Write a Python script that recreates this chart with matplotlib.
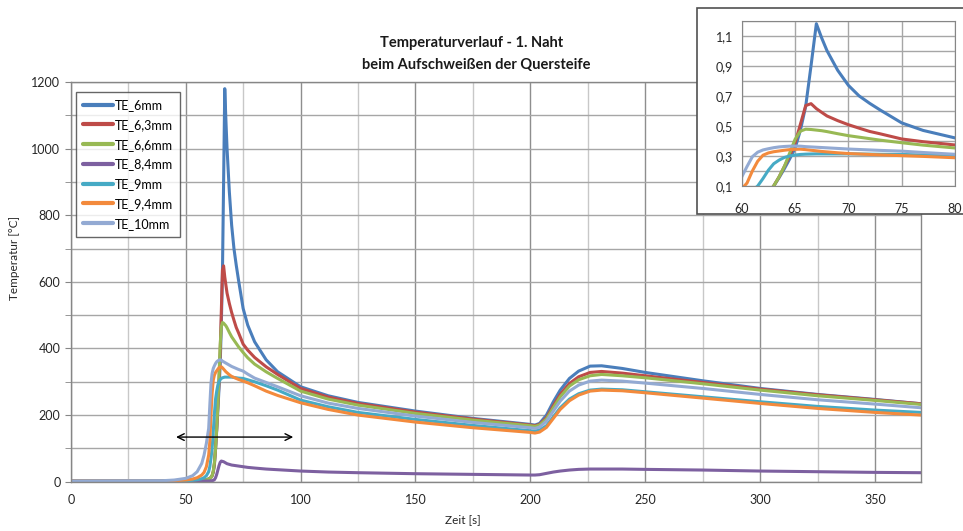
import matplotlib
matplotlib.use("Agg")
import matplotlib.pyplot as plt
from matplotlib.ticker import MultipleLocator, FuncFormatter
from matplotlib.patches import Rectangle

plt.rcParams['font.family'] = ['Lato', 'DejaVu Sans']

# ---- data (time in s, temperature in °C) ----
t = [0, 40, 45, 50, 53, 55, 57, 58, 59, 60, 60.5, 61, 61.5, 62, 62.5, 63, 63.5, 64, 64.5, 65,
     65.5, 66, 66.5, 67, 67.5, 68, 69, 70, 71, 72, 73, 75,
     77, 80, 85, 90, 100, 112, 125, 150, 175, 200,
     202, 204, 207, 210, 213, 217, 221, 226, 231, 240, 250, 275, 300, 325, 350, 370]

te_6mm = [2, 2, 2, 2, 3, 3, 4, 5, 6, 8, 10, 13, 18, 28, 50, 100, 155, 215, 280, 350,
          470, 630, 900, 1180, 1085, 1000, 870, 770, 700, 650, 605, 520,
          470, 420, 366, 330, 285, 258, 238, 212, 190, 172,
          170, 175, 200, 240, 275, 310, 332, 347, 348, 340, 328, 303, 280, 262, 247, 234]
te_6_3mm = [2, 2, 2, 2, 3, 3, 4, 5, 6, 8, 10, 13, 18, 30, 55, 100, 160, 230, 300, 385,
            510, 635, 648, 615, 590, 566, 535, 508, 485, 463, 447, 413,
            395, 373, 345, 322, 280, 254, 235, 209, 188, 170,
            168, 172, 192, 228, 262, 295, 315, 328, 331, 326, 318, 298, 278, 261, 246, 234]
te_6_6mm = [2, 2, 2, 2, 3, 3, 4, 5, 6, 8, 10, 13, 18, 32, 58, 100, 160, 230, 320, 410,
            465, 478, 476, 472, 468, 462, 448, 435, 425, 415, 405, 388,
            372, 353, 330, 310, 272, 248, 230, 205, 185, 168,
            166, 170, 188, 222, 255, 287, 306, 318, 322, 318, 312, 294, 275, 258, 244, 232]
te_8_4mm = [2, 2, 2, 2, 2, 2, 2, 2, 2, 2, 2, 3, 3, 4, 6, 12, 22, 35, 48, 58,
            62, 61, 60, 58, 56, 54, 52, 50, 49, 48, 47, 45,
            43, 41, 38, 36, 32, 29, 27, 24, 22, 20,
            20, 21, 25, 29, 32, 35, 37, 38, 38, 38, 37, 35, 32, 30, 28, 27]
te_9mm = [2, 2, 2, 3, 4, 6, 9, 12, 18, 30, 45, 70, 100, 150, 205, 248, 272, 290, 300, 306,
          310, 312, 313, 314, 314, 314, 314, 314, 313, 312, 311, 310,
          306, 300, 288, 275, 245, 225, 208, 187, 169, 153,
          152, 155, 168, 195, 222, 248, 264, 275, 278, 276, 270, 255, 240, 226, 215, 208]
te_9_4mm = [2, 2, 3, 5, 8, 12, 20, 28, 45, 80, 120, 200, 265, 305, 320, 328, 333, 338, 342, 344,
            345, 342, 338, 334, 330, 327, 321, 316, 313, 310, 307, 302,
            297, 288, 272, 259, 237, 217, 200, 179, 162, 148,
            146, 149, 163, 190, 217, 243, 260, 272, 275, 273, 267, 251, 235, 220, 208, 200]
te_10mm = [2, 3, 5, 10, 18, 30, 55, 80, 115, 160, 230, 295, 325, 340, 348, 355, 360, 363, 365, 366,
           365, 362, 360, 358, 356, 354, 350, 346, 343, 340, 337, 332,
           323, 311, 298, 285, 258, 236, 220, 197, 178, 162,
           160, 164, 182, 212, 242, 272, 290, 302, 305, 302, 296, 280, 262, 246, 233, 222]

labels = ['TE_6mm', 'TE_6,3mm', 'TE_6,6mm', 'TE_8,4mm', 'TE_9mm', 'TE_9,4mm', 'TE_10mm']
series = [te_6mm, te_6_3mm, te_6_6mm, te_8_4mm, te_9mm, te_9_4mm, te_10mm]
colors = ['#4A7EBB', '#BE4B48', '#98B954', '#7D60A0', '#46AAC5', '#F38A3C', '#93AAD3']

main_xticks = [0, 50, 100, 150, 200, 250, 300, 350]
main_yticks = [0, 200, 400, 600, 800, 1000, 1200]
inset_xticks = [60, 65, 70, 75, 80]
inset_yticks = [0.1, 0.3, 0.5, 0.7, 0.9, 1.1]

W, H = 963, 531
fig = plt.figure(figsize=(W / 100, H / 100), dpi=100)

def px_rect(x0, y0, x1, y1):
    return [x0 / W, 1 - y1 / H, (x1 - x0) / W, (y1 - y0) / H]

grid_c = '#A6A6A6'
spine_c = '#868686'

# ---- main axes ----
ax = fig.add_axes(px_rect(70.8, 82.0, 921.0, 481.7))
for s, lab, c in zip(series, labels, colors):
    ax.plot(t, s, color=c, lw=2.2, label=lab, solid_capstyle='round')

ax.set_xlim(0, 370)
ax.set_ylim(0, 1200)
ax.set_xticks(main_xticks)
ax.set_yticks(main_yticks)
ax.xaxis.set_minor_locator(MultipleLocator(25))
ax.yaxis.set_minor_locator(MultipleLocator(100))
ax.grid(which='major', axis='x', color='#8E8E8E', lw=1.0)
ax.grid(which='minor', axis='x', color='#C8C8C8', lw=1.0)
ax.grid(which='both', axis='y', color=grid_c, lw=1.0)
ax.set_axisbelow(True)
for sp in ax.spines.values():
    sp.set_color(spine_c)
    sp.set_linewidth(1.0)
ax.tick_params(which='both', direction='out', length=4, color=spine_c, labelsize=9,
               labelcolor='#262626')
ax.tick_params(axis='x', which='both', length=0, pad=9)

ax.annotate('', xy=(96.8, 134), xytext=(45.8, 134),
            arrowprops=dict(arrowstyle='<->', color='black', lw=1.0, mutation_scale=12,
                            shrinkA=0, shrinkB=0))

leg = ax.legend(loc='upper left', bbox_to_anchor=(0.006, 0.976), borderaxespad=0,
                fontsize=9, frameon=True, fancybox=False, handlelength=2.4,
                handletextpad=0.1, labelspacing=0.62, borderpad=0.6)
leg.get_frame().set_edgecolor('#404040')
leg.get_frame().set_linewidth(1.0)
for ln in leg.get_lines():
    ln.set_linewidth(3.0)

fig.text(472 / W, 1 - 43 / H, 'Temperaturverlauf - 1. Naht', ha='center', va='center',
         fontsize=10.5, fontweight='bold', color='#1a1a1a')
fig.text(476 / W, 1 - 65 / H, 'beim Aufschweißen der Quersteife', ha='center', va='center',
         fontsize=10.5, fontweight='bold', color='#1a1a1a')
fig.text(15 / W, 1 - 258 / H, 'Temperatur [°C]', rotation=90, ha='center', va='center',
         fontsize=8.5, color='#262626')
fig.text(463 / W, 1 - 520 / H, 'Zeit [s]', ha='center', va='center',
         fontsize=8.5, color='#262626')

# ---- inset ----
frame = Rectangle((697 / W, 1 - 214 / H), (975 - 697) / W, (214 - 8) / H,
                  transform=fig.transFigure, facecolor='white', edgecolor='#505050',
                  lw=1.2, zorder=5)
fig.patches.append(frame)

axi = fig.add_axes(px_rect(741.7, 20.7, 955.0, 186.0))
axi.set_zorder(10)
for s, c in zip(series, colors):
    axi.plot(t, [v / 1000 for v in s], color=c, lw=2.2, solid_capstyle='round')
axi.set_xlim(60, 80)
axi.set_ylim(0.1, 1.2)
axi.set_xticks(inset_xticks)
axi.set_yticks(inset_yticks)
axi.yaxis.set_minor_locator(MultipleLocator(0.1))
axi.yaxis.set_major_formatter(FuncFormatter(lambda v, p: f'{v:.1f}'.replace('.', ',')))
axi.grid(which='both', color=grid_c, lw=1.0)
axi.set_axisbelow(True)
for sp in axi.spines.values():
    sp.set_color(spine_c)
axi.tick_params(which='both', length=0, labelsize=9, labelcolor='#262626')
axi.tick_params(axis='x', pad=12)
axi.tick_params(axis='y', pad=6)

fig.savefig('out.png', dpi=100)
